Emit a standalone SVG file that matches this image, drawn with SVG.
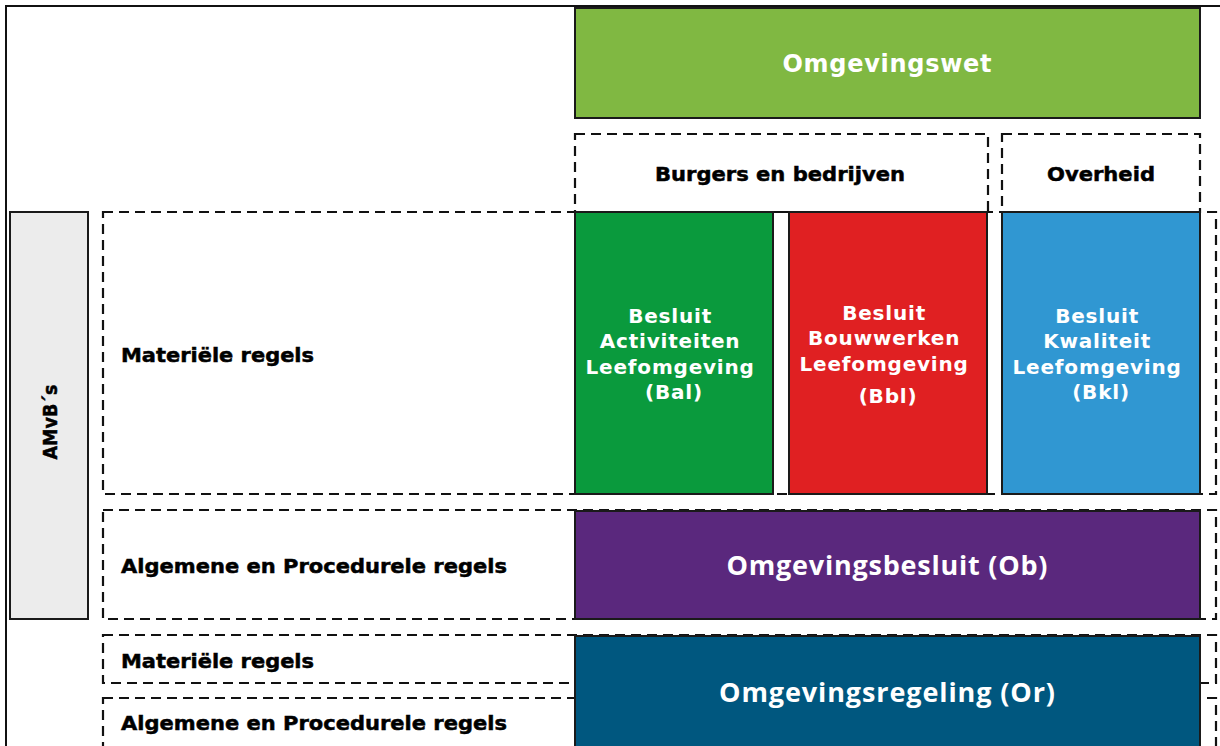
<svg xmlns="http://www.w3.org/2000/svg" width="1220" height="746" viewBox="0 0 1220 746">
<style>
.dash{fill:none;stroke:#111;stroke-width:2.2;stroke-dasharray:10 6}
.solid{stroke:#1a1a1a;stroke-width:2}
.lbl{font-family:"DejaVu Sans","Liberation Sans",sans-serif;font-weight:bold;fill:#000;stroke:#000;stroke-width:0.5}
.wt{font-family:"DejaVu Sans","Liberation Sans",sans-serif;font-weight:bold;fill:#fff;text-anchor:middle}
.wt2{font-family:"Open Sans","DejaVu Sans",sans-serif;font-weight:bold;fill:#fff;text-anchor:middle}
</style>
<rect x="0" y="0" width="1220" height="746" fill="#fff"/>
<path d="M6,746 V6 H1220" fill="none" stroke="#111" stroke-width="2"/>

<g id="omgevingswet">
<rect class="solid" x="575" y="8" width="625" height="110" fill="#80b842"/>
<text class="wt" x="887" y="72" font-size="24" textLength="209" lengthAdjust="spacing">Omgevingswet</text>
</g>

<g id="burgers">
<rect class="dash" x="575" y="134" width="413" height="78"/>
<text class="lbl" x="780" y="181" font-size="20" text-anchor="middle" textLength="250" lengthAdjust="spacingAndGlyphs">Burgers en bedrijven</text>
</g>

<g id="overheid">
<rect class="dash" x="1002" y="134" width="198" height="78"/>
<text class="lbl" x="1101" y="181" font-size="20" text-anchor="middle" textLength="108" lengthAdjust="spacingAndGlyphs">Overheid</text>
</g>

<g id="amvbs">
<rect class="solid" x="10" y="212" width="78" height="407" fill="#ececec"/>
<text class="lbl" transform="translate(57,422) rotate(-90)" font-size="19" text-anchor="middle" textLength="75" lengthAdjust="spacingAndGlyphs">AMvB´s</text>
</g>

<g id="materiele-1">
<rect class="dash" x="103" y="212" width="1113" height="282"/>
<text class="lbl" x="121" y="362" font-size="20" textLength="193" lengthAdjust="spacingAndGlyphs">Materiële regels</text>
</g>

<g id="algemene-1">
<rect class="dash" x="103" y="510" width="1113" height="109"/>
<text class="lbl" x="121" y="573" font-size="20" textLength="386" lengthAdjust="spacingAndGlyphs">Algemene en Procedurele regels</text>
</g>

<g id="materiele-2">
<rect class="dash" x="103" y="635" width="1113" height="48"/>
<text class="lbl" x="121" y="668" font-size="20" textLength="193" lengthAdjust="spacingAndGlyphs">Materiële regels</text>
</g>

<g id="algemene-2">
<rect class="dash" x="103" y="698" width="1113" height="50"/>
<text class="lbl" x="121" y="730" font-size="20" textLength="386" lengthAdjust="spacingAndGlyphs">Algemene en Procedurele regels</text>
</g>

<g id="bal">
<rect class="solid" x="575" y="212" width="198" height="282" fill="#0a9a3d"/>
<text class="wt" font-size="20" letter-spacing="0.8">
<tspan x="674" y="323">Besluit</tspan>
<tspan x="674" y="348">Activiteiten</tspan>
<tspan x="674" y="374">Leefomgeving</tspan>
<tspan x="674" y="399">(Bal)</tspan>
</text>
</g>

<g id="bbl">
<rect class="solid" x="789" y="212" width="198" height="282" fill="#e02022"/>
<text class="wt" font-size="20" letter-spacing="0.8">
<tspan x="888" y="320">Besluit</tspan>
<tspan x="888" y="345">Bouwwerken</tspan>
<tspan x="888" y="371">Leefomgeving</tspan>
<tspan x="888" y="403">(Bbl)</tspan>
</text>
</g>

<g id="bkl">
<rect class="solid" x="1002" y="212" width="198" height="282" fill="#3097d2"/>
<text class="wt" font-size="20" letter-spacing="0.8">
<tspan x="1101" y="323">Besluit</tspan>
<tspan x="1101" y="348">Kwaliteit</tspan>
<tspan x="1101" y="374">Leefomgeving</tspan>
<tspan x="1101" y="399">(Bkl)</tspan>
</text>
</g>

<g id="ob">
<rect class="solid" x="575" y="511" width="625" height="108" fill="#5a287d"/>
<text class="wt2" x="887" y="575" font-size="27" textLength="321" lengthAdjust="spacing">Omgevingsbesluit (Ob)</text>
</g>

<g id="or">
<rect class="solid" x="575" y="636" width="625" height="112" fill="#00577f"/>
<text class="wt2" x="887" y="702" font-size="27" textLength="336" lengthAdjust="spacing">Omgevingsregeling (Or)</text>
</g>

<g id="connectors"></g>
</svg>
